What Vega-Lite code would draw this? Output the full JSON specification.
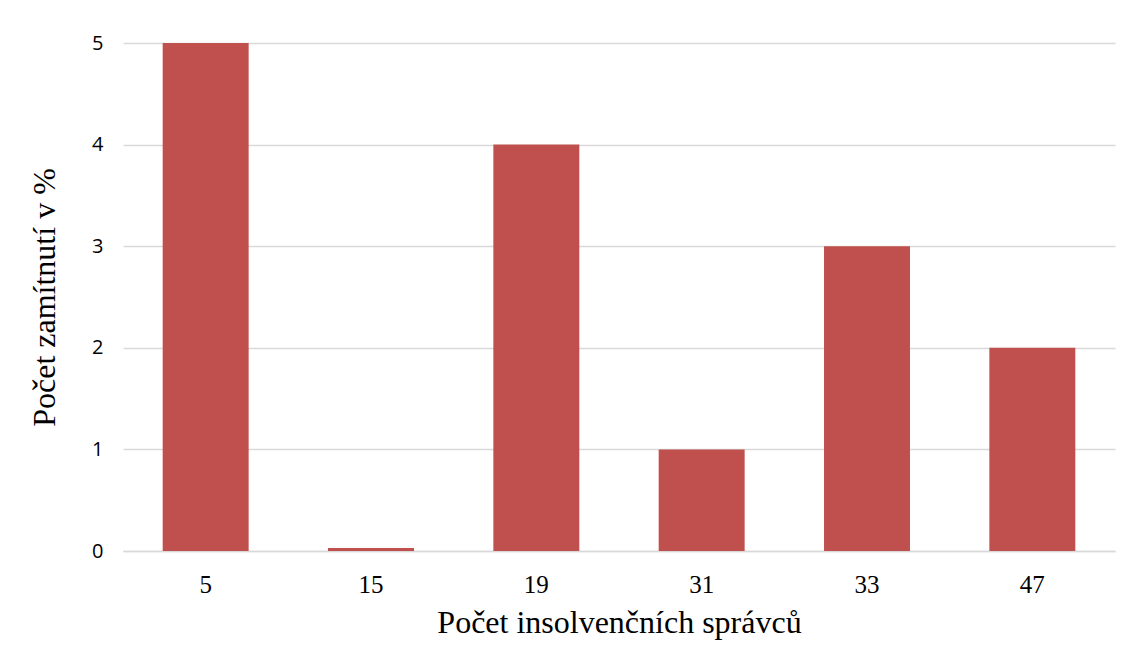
{
  "$schema": "https://vega.github.io/schema/vega-lite/v6.json",
  "width": 992,
  "height": 508,
  "autosize": {"type": "none"},
  "padding": {"left": 123, "top": 43, "right": 19, "bottom": 117},
  "background": "white",
  "config": {"view": {"stroke": null}},
  "data": {
    "values": [
      {"spravci": "5", "zamitnuti": 5},
      {"spravci": "15", "zamitnuti": 0.03},
      {"spravci": "19", "zamitnuti": 4},
      {"spravci": "31", "zamitnuti": 1},
      {"spravci": "33", "zamitnuti": 3},
      {"spravci": "47", "zamitnuti": 2}
    ]
  },
  "mark": {"type": "bar", "color": "#c0504d"},
  "encoding": {
    "x": {
      "field": "spravci",
      "type": "nominal",
      "sort": null,
      "scale": {"paddingInner": 0.48, "paddingOuter": 0.24},
      "axis": {
        "title": "Počet insolvenčních správců",
        "titleFont": "Liberation Serif",
        "titleFontSize": 32,
        "titleFontWeight": "normal",
        "titleColor": "#000000",
        "titlePadding": 10,
        "labelFont": "Liberation Serif",
        "labelFontSize": 25,
        "labelColor": "#000000",
        "labelAngle": 0,
        "labelPadding": 21,
        "ticks": false,
        "domainColor": "#d9d9d9",
        "domainWidth": 1.5,
        "grid": false
      }
    },
    "y": {
      "field": "zamitnuti",
      "type": "quantitative",
      "scale": {"domain": [0, 5], "nice": false},
      "axis": {
        "title": "Počet zamítnutí v %",
        "titleFont": "Liberation Serif",
        "titleFontSize": 32,
        "titleFontWeight": "normal",
        "titleColor": "#000000",
        "titlePadding": 30,
        "labelFont": "Open Sans",
        "labelFontSize": 20,
        "labelColor": "#000000",
        "labelPadding": 20,
        "values": [0, 1, 2, 3, 4, 5],
        "format": "d",
        "ticks": false,
        "domain": false,
        "grid": true,
        "gridColor": "#d9d9d9",
        "gridWidth": 1.5
      }
    }
  }
}
